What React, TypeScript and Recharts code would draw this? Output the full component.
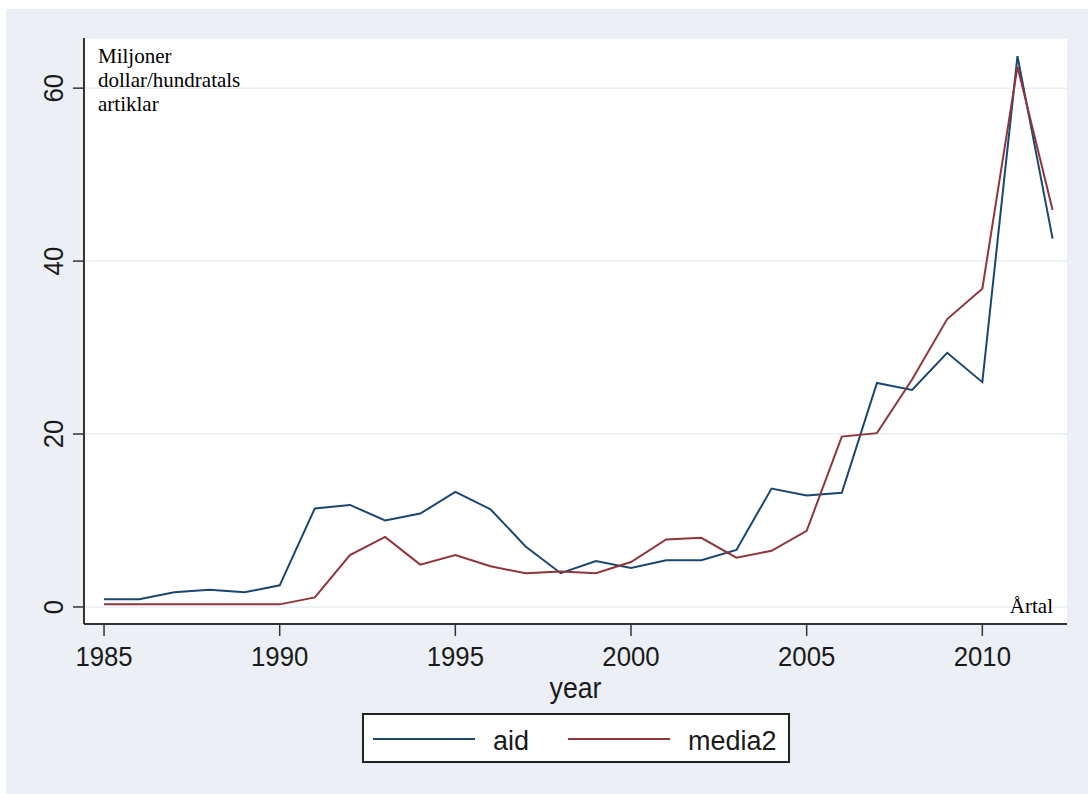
import React from 'react';
import { LineChart, Line, XAxis, YAxis, CartesianGrid, Legend, Label } from 'recharts';

const years = [1985, 1986, 1987, 1988, 1989, 1990, 1991, 1992, 1993, 1994, 1995, 1996, 1997, 1998, 1999, 2000, 2001, 2002, 2003, 2004, 2005, 2006, 2007, 2008, 2009, 2010, 2011, 2012];
const aid = [0.9, 0.9, 1.7, 2.0, 1.7, 2.5, 11.4, 11.8, 10.0, 10.8, 13.3, 11.3, 7.0, 3.9, 5.3, 4.5, 5.4, 5.4, 6.6, 13.7, 12.9, 13.2, 25.9, 25.1, 29.4, 26.0, 63.7, 42.6];
const media2 = [0.3, 0.3, 0.3, 0.3, 0.3, 0.3, 1.1, 6.0, 8.1, 4.9, 6.0, 4.7, 3.9, 4.1, 3.9, 5.2, 7.8, 8.0, 5.7, 6.5, 8.8, 19.7, 20.1, 26.3, 33.3, 36.8, 62.5, 45.9];
const xTicks = [1985, 1990, 1995, 2000, 2005, 2010];
const yTicks = [0, 20, 40, 60];
const yTitleLines = ['Miljoner', 'dollar/hundratals', 'artiklar'];
const xTitle = 'year';
const xNote = 'Årtal';

const data = years.map((y, i) => ({ year: y, aid: aid[i], media2: media2[i] }));

const BLUE = '#1a476f';
const RED = '#90353b';
const SANS = '"Liberation Sans", Arial, sans-serif';
const SERIF = '"Liberation Serif", "Times New Roman", serif';

const XTick = (props: any) => {
  const { x, y, payload } = props;
  return (
    <g transform={`translate(${x},${y})`}>
      <text transform="scale(0.92,1)" textAnchor="middle" y={28} fontSize={28} fontFamily={SANS} fill="#1a1a1a">
        {payload.value}
      </text>
    </g>
  );
};

const YTick = (props: any) => {
  const { x, y, payload } = props;
  return (
    <g transform={`translate(${x},${y}) rotate(-90)`}>
      <text transform="scale(0.92,1)" textAnchor="middle" y={0} fontSize={28} fontFamily={SANS} fill="#1a1a1a">
        {payload.value}
      </text>
    </g>
  );
};

const XLabel = (props: any) => {
  const vb = props.viewBox || {};
  const cx = vb.x + vb.width / 2;
  return (
    <g>
      <g transform={`translate(${cx},${vb.y + 74})`}>
        <text transform="scale(0.92,1)" textAnchor="middle" fontSize={29} fontFamily={SANS} fill="#1a1a1a">
          {xTitle}
        </text>
      </g>
      <text x={vb.x + vb.width - 14} y={vb.y - 11} textAnchor="end" fontSize={21} fontFamily={SERIF} fill="#000">
        {xNote}
      </text>
    </g>
  );
};

const YLabel = (props: any) => {
  const vb = props.viewBox || {};
  const left = vb.x + vb.width + 14;
  return (
    <g>
      {yTitleLines.map((t, i) => (
        <text key={t} x={left} y={vb.y + 25 + i * 24} fontSize={21} fontFamily={SERIF} fill="#000">
          {t}
        </text>
      ))}
    </g>
  );
};

const LegendContent = () => (
  <svg width={428} height={50} style={{ display: 'block' }}>
    <rect x={1} y={1} width={426} height={48} fill="#fff" stroke="#222" strokeWidth={2} />
    <line x1={11} x2={113} y1={26} y2={26} stroke={BLUE} strokeWidth={2} />
    <text x={131} y={37} fontSize={27} fontFamily={SANS} fill="#1a1a1a">aid</text>
    <line x1={206} x2={308} y1={26} y2={26} stroke={RED} strokeWidth={2} />
    <text x={326} y={37} fontSize={27} fontFamily={SANS} fill="#1a1a1a">media2</text>
  </svg>
);

export default function App() {
  return (
    <div style={{ position: 'absolute', left: 6, top: 9, width: 1082, height: 785, background: '#ecf0f6' }}>
      <LineChart width={1082} height={785} data={data} margin={{ top: 29, right: 21, bottom: 85, left: 0 }}>
        <CartesianGrid vertical={false} horizontal={true} stroke="#e9eff4" strokeWidth={1.5} fill="#ffffff" />
        <XAxis
          dataKey="year"
          type="number"
          domain={[1984.43, 2012.41]}
          ticks={xTicks}
          allowDataOverflow
          height={85}
          tickSize={12}
          tickMargin={2}
          tick={<XTick />}
          axisLine={{ stroke: '#333', strokeWidth: 2 }}
          tickLine={{ stroke: '#333', strokeWidth: 1.5 }}
        >
          <Label content={<XLabel />} />
        </XAxis>
        <YAxis
          type="number"
          domain={[-1.97, 65.8]}
          ticks={yTicks}
          allowDataOverflow
          width={78}
          tickSize={11}
          tickMargin={10}
          tick={<YTick />}
          axisLine={{ stroke: '#333', strokeWidth: 2 }}
          tickLine={{ stroke: '#333', strokeWidth: 1.5 }}
        >
          <Label content={<YLabel />} />
        </YAxis>
        <Legend
          layout="horizontal"
          verticalAlign="middle"
          align="center"
          content={<LegendContent />}
          wrapperStyle={{ left: 356, top: 704, width: 428, height: 50 }}
        />
        <Line type="linear" dataKey="aid" stroke={BLUE} strokeWidth={2} dot={false} isAnimationActive={false} />
        <Line type="linear" dataKey="media2" stroke={RED} strokeWidth={2} dot={false} isAnimationActive={false} />
      </LineChart>
    </div>
  );
}
